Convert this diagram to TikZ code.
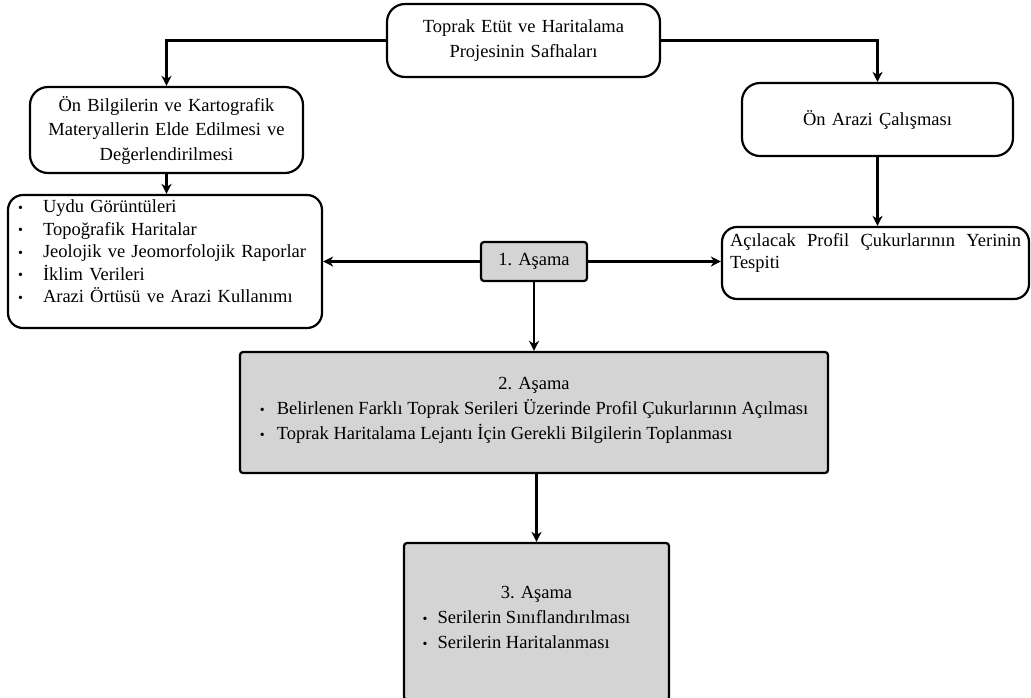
\documentclass[tikz,border=0pt]{standalone}
\usepackage{fontspec}
\setmainfont{Liberation Serif}
\definecolor{stagegray}{RGB}{212, 212, 212}
\usetikzlibrary{arrows.meta, positioning}
\hyphenpenalty=10000
\newcommand{\blt}[1][25pt]{\makebox[#1][l]{\raisebox{0.05ex}{\fontsize{14}{14}\selectfont\textbullet}}}

\begin{document}
\begin{tikzpicture}[x=1pt, y=-1pt, line width=2.2pt,
  phasebox/.style={draw, fill=white, rounded corners=18pt, align=center, inner sep=4pt, font=\fontsize{18.5}{24.5}\selectfont},
  stagebox/.style={draw, fill=stagegray, rounded corners=3pt, align=center, inner sep=4pt, font=\fontsize{18.5}{25}\selectfont},
  flow/.style={-{Stealth[length=10pt, width=10pt, inset=3pt]}}]
  \useasboundingbox (0,0) rectangle (1031,697);

  % white boxes
  \node[phasebox, text width=265pt, minimum height=73pt] (safha) at (523.5,40.5) {Toprak Etüt ve Haritalama\\Projesinin Safhaları};
  \node[phasebox, text width=265pt, minimum height=86pt] (info) at (166.5,130) {Ön Bilgilerin ve Kartografik\\Materyallerin Elde Edilmesi ve\\Değerlendirilmesi};
  \node[phasebox, text width=263pt, minimum height=73pt] (arazi) at (877.5,119.5) {Ön Arazi Çalışması};
  \node[phasebox, rounded corners=15pt, align=left, inner xsep=10pt, text width=294pt, minimum height=133pt, font=\fontsize{18.5}{22.5}\selectfont] (kaynak) at (165,261.5) {\blt Uydu Görüntüleri\\\blt Topoğrafik Haritalar\\\blt Jeolojik ve Jeomorfolojik Raporlar\\\blt İklim Verileri\\\blt Arazi Örtüsü ve Arazi Kullanımı\\[-2.5pt]\mbox{}};
  \node[phasebox, rounded corners=15pt, align=justify, inner xsep=8pt, text width=291pt, minimum height=72pt, font=\fontsize{18.5}{22.5}\selectfont] (tespit) at (875.5,263) {Açılacak Profil Çukurlarının Yerinin\linebreak Tespiti\\[2pt]\mbox{}};

  % gray stages
  \node[stagebox, minimum width=106pt, minimum height=39pt] (asama1) at (534,261.5) {1. Aşama};
  \node[stagebox, minimum width=588pt, minimum height=121pt] (asama2) at (534,412.5) {2. Aşama\\\begin{tabular}[t]{@{}l@{}}\blt[17pt]Belirlenen Farklı Toprak Serileri Üzerinde Profil Çukurlarının Açılması\\\blt[17pt]Toprak Haritalama Lejantı İçin Gerekli Bilgilerin Toplanması\end{tabular}};
  \node[stagebox, minimum width=265pt, minimum height=157pt] (asama3) at (536.5,621.5) {3. Aşama\\\begin{tabular}[t]{@{}l@{\hspace{20pt}}}\blt[15pt]Serilerin Sınıflandırılması\\\blt[15pt]Serilerin Haritalanması\end{tabular}};

  % connectors
  \draw[flow] (safha.west) -| (info.north);
  \draw[flow] (safha.east) -| (arazi.north);
  \draw[flow] (info.south) -- (info.south |- kaynak.north);
  \draw[flow] (arazi.south) -- (arazi.south |- tespit.north);
  \draw[flow] (asama1.west) -- (kaynak.east);
  \draw[flow] (asama1.east) -- (asama1.east -| tespit.west);
  \draw[flow] (asama1.south) -- (asama2.north);
  \draw[flow] (asama2.south -| asama3.north) -- (asama3.north);
\end{tikzpicture}
\end{document}
